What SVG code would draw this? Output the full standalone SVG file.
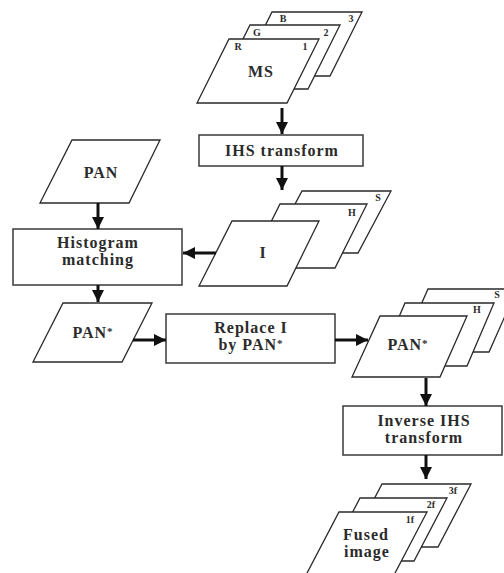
<svg xmlns="http://www.w3.org/2000/svg" width="504" height="573" viewBox="0 0 504 573">
<defs>
<style>
.sheet{fill:#fff;stroke:#2a2a2a;stroke-width:1.3;stroke-linejoin:miter}
.box{fill:#fff;stroke:#3a3a3a;stroke-width:1.5}
.t{font-family:"Liberation Serif",serif;font-weight:bold;font-size:16px;fill:#2b2b2b;text-anchor:middle;letter-spacing:1px}
.s{font-family:"Liberation Serif",serif;font-weight:bold;font-size:10px;fill:#2b2b2b;text-anchor:middle}
.ar{stroke:#111;stroke-width:3;fill:none;marker-end:url(#ah)}
</style>
<marker id="ah" markerUnits="userSpaceOnUse" markerWidth="14" markerHeight="14" viewBox="0 0 14 14" refX="12" refY="7" orient="auto">
<path d="M0,1 L12,7 L0,13 Z" fill="#111"/>
</marker>
</defs>
<rect width="504" height="573" fill="#fff"/>

<g id="ms">
<polygon class="sheet" points="272,12 362,12 330,76 240,76"/>
<polygon class="sheet" points="250,25 340,25 308,89 218,89"/>
<polygon class="sheet" points="229,39 319,39 287,103 197,103"/>
<text class="s" x="283" y="22">B</text><text class="s" x="351" y="22">3</text>
<text class="s" x="257" y="36">G</text><text class="s" x="326" y="36">2</text>
<text class="s" x="238" y="50">R</text><text class="s" x="305" y="50">1</text>
<text class="t" x="261" y="77">MS</text>
</g>

<g id="ihs">
<rect class="box" x="199" y="135" width="164" height="31"/>
<text class="t" x="282" y="156">IHS transform</text>
</g>

<g id="pan">
<polygon class="sheet" points="72,140 160,140 129,203 40,203"/>
<text class="t" x="101" y="178">PAN</text>
</g>

<g id="istack">
<polygon class="sheet" points="302,191 391,191 358,253 269,253"/>
<polygon class="sheet" points="280,204 367,204 335,268 248,268"/>
<polygon class="sheet" points="232,221 319,221 287,286 199,286"/>
<text class="s" x="378" y="201">S</text>
<text class="s" x="352" y="216">H</text>
<text class="t" x="263" y="258">I</text>
</g>

<g id="hist">
<rect class="box" x="13" y="229" width="169" height="56"/>
<text class="t" x="98" y="248">Histogram</text>
<text class="t" x="98" y="265">matching</text>
</g>

<g id="panstar">
<polygon class="sheet" points="63,303 152,303 122,362 33,362"/>
<text class="t" x="93" y="338">PAN<tspan font-size="11" dy="-3">*</tspan></text>
</g>

<g id="replace">
<rect class="box" x="166" y="314" width="169" height="49"/>
<text class="t" x="251" y="333">Replace I</text>
<text class="t" x="251" y="350">by PAN<tspan font-size="11" dy="-3">*</tspan></text>
</g>

<g id="panstack">
<polygon class="sheet" points="428,289 517,289 489,352 400,352"/>
<polygon class="sheet" points="405,303 494,303 467,366 378,366"/>
<polygon class="sheet" points="380,316 467,316 440,377 352,377"/>
<text class="s" x="497" y="298">S</text>
<text class="s" x="477" y="313">H</text>
<text class="t" x="408" y="350">PAN<tspan font-size="11" dy="-3">*</tspan></text>
</g>

<g id="inverse">
<rect class="box" x="343" y="406" width="159" height="49"/>
<text class="t" x="424" y="426">Inverse IHS</text>
<text class="t" x="424" y="443">transform</text>
</g>

<g id="fused">
<polygon class="sheet" points="382,484 471,484 438,547 349,547"/>
<polygon class="sheet" points="360,498 447,498 414,561 327,561"/>
<polygon class="sheet" points="339,512 427,512 394,575 306,575"/>
<text class="s" x="453" y="494">3f</text>
<text class="s" x="431" y="508">2f</text>
<text class="s" x="410" y="523">1f</text>
<text class="t" x="366" y="540">Fused</text>
<text class="t" x="367" y="557">image</text>
</g>

<g id="connectors">
<line class="ar" x1="282" y1="108" x2="282" y2="134"/>
<line class="ar" x1="282" y1="166" x2="282" y2="190"/>
<line class="ar" x1="216" y1="253" x2="183" y2="253"/>
<line class="ar" x1="98" y1="203" x2="98" y2="229"/>
<line class="ar" x1="98" y1="285" x2="98" y2="302"/>
<line class="ar" x1="133" y1="340" x2="166" y2="340"/>
<line class="ar" x1="335" y1="340" x2="368" y2="340"/>
<line class="ar" x1="426" y1="378" x2="426" y2="406"/>
<line class="ar" x1="426" y1="455" x2="426" y2="479"/>
</g>
</svg>
